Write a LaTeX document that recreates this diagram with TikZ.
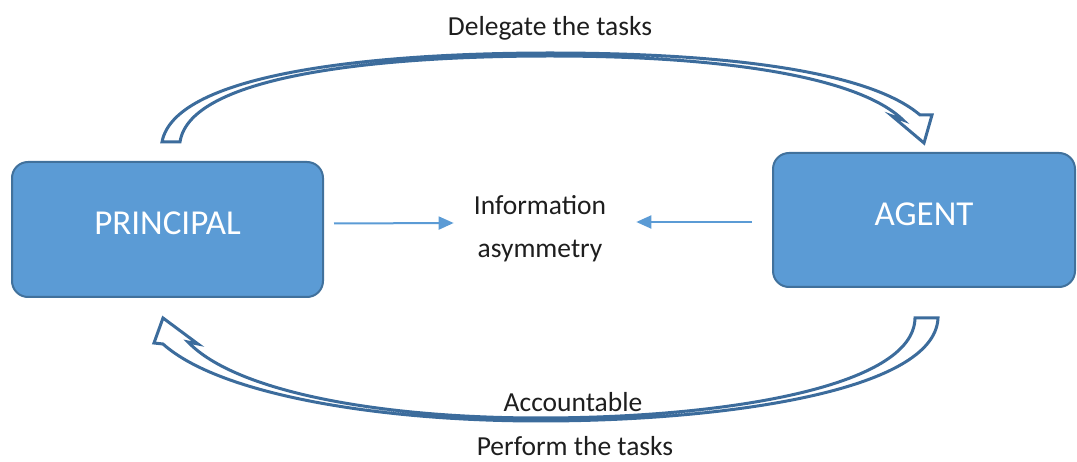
\documentclass[tikz,border=0pt]{standalone}
\usepackage{fontspec}
\setmainfont{Carlito}
\usetikzlibrary{arrows.meta}

\definecolor{boxblue}{HTML}{5B9BD5}
\definecolor{boxedge}{HTML}{41719C}
\definecolor{bandedge}{HTML}{3C6C9C}
\definecolor{ink}{HTML}{1E1E1E}

\tikzset{
    party/.style = {draw = boxedge, line width = 2pt, fill = boxblue, rounded corners = 16pt,
        text = white, font = \fontsize{35}{40}\selectfont},
    caption/.style = {text = ink, font = \fontsize{27.5}{43}\selectfont, inner sep = 0pt},
    infoarrow/.style = {draw = boxblue, line width = 2pt, -{Triangle[length = 15pt, width = 13pt]}},
    band/.style = {draw = bandedge, line width = 3pt, fill = white, line join = miter}
}

\begin{document}
\begin{tikzpicture}[x = 1pt, y = -1pt]
    \useasboundingbox (0, 0) rectangle (1077, 462);

    \node [party, minimum width = 311pt, minimum height = 135pt] (principal) at (167.5, 229.5) {\raisebox{13pt}{PRINCIPAL}};
    \node [party, minimum width = 302pt, minimum height = 134pt] (agent) at (924, 220) {\raisebox{12pt}{AGENT}};

    \node [caption, align = center] (info) at (540, 229) {Information\\asymmetry};
    \node [caption] (delegate) at (550, 28) {Delegate the tasks};
    \node [caption] (accountable) at (573, 402) {Accountable};
    \node [caption] (perform) at (575, 446) {Perform the tasks};

    \draw [infoarrow] ([shift = {(10pt, 6pt)}]principal.east) -- ([shift = {(-20pt, 6pt)}]info.west);
    \draw [infoarrow] ([shift = {(-20pt, -2pt)}]agent.west) -- ([shift = {(30pt, 7pt)}]info.east);

    % curved block arrow over the top, principal to agent
    \draw [band]
        (162, 142) .. controls (175, 72) and (380, 53) .. (550, 53)
        .. controls (730, 53) and (870, 72) .. (920, 115)
        -- (932, 115) -- (924, 143) -- (892, 116) -- (903, 120)
        .. controls (860, 78) and (730, 56) .. (550, 56)
        .. controls (380, 56) and (190, 75) .. (180, 142)
        -- cycle;

    % curved block arrow underneath, agent back to principal
    \draw [band]
        (938, 318) .. controls (935, 392) and (720, 421) .. (540, 421)
        .. controls (380, 421) and (220, 395) .. (163, 344)
        -- (154, 343) -- (163, 318) -- (198, 344) -- (188, 342)
        .. controls (236, 392) and (380, 418) .. (540, 418)
        .. controls (720, 418) and (914, 388) .. (915, 318)
        -- cycle;
\end{tikzpicture}
\end{document}
